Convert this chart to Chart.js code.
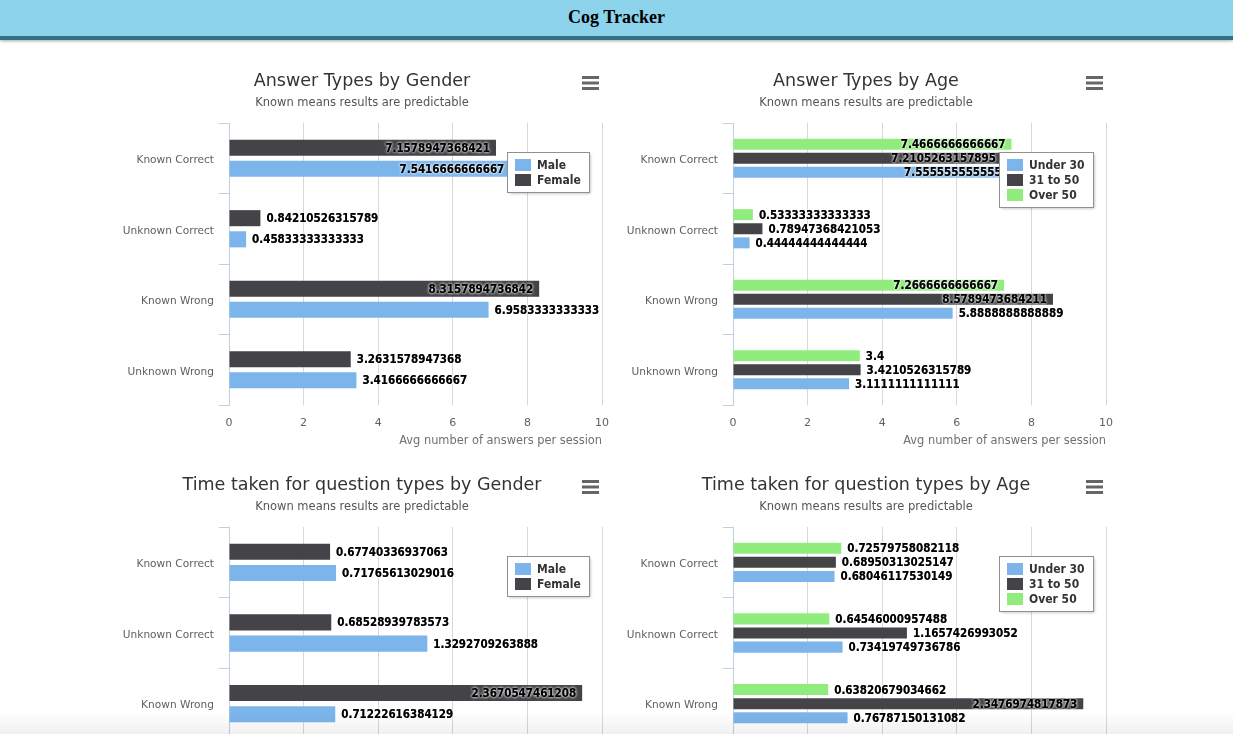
<!DOCTYPE html>
<html><head><meta charset="utf-8">
<script src="https://cdn.jsdelivr.net/npm/chart.js@4.4.1/dist/chart.umd.min.js"></script>
<style>
html,body{margin:0;padding:0;background:#fff;overflow:hidden;width:1233px;height:734px;}
#hdr{position:absolute;left:0;top:0;width:1233px;height:36px;background:#8dd3ec;border-bottom:4px solid #2f7384;box-shadow:0 1px 3px rgba(0,0,0,0.35);text-align:center;font:bold 18px "Liberation Serif","Times New Roman",serif;line-height:34px;color:#000;z-index:2}
.box{position:absolute;}
#fade{position:fixed;left:0;bottom:0;width:1233px;height:22px;background:linear-gradient(rgba(0,0,0,0),rgba(0,0,0,0.06));pointer-events:none;z-index:3}
</style></head>
<body>
<div id="hdr">Cog Tracker</div>
<div class="box" style="left:112px;top:55px"><canvas id="c1" width="500" height="400"></canvas></div>
<div class="box" style="left:616px;top:55px"><canvas id="c2" width="500" height="400"></canvas></div>
<div class="box" style="left:112px;top:459px"><canvas id="c3" width="500" height="330"></canvas></div>
<div class="box" style="left:616px;top:459px"><canvas id="c4" width="500" height="330"></canvas></div>
<div id="fade"></div>
<script>
// ---------- data ----------
const answerCategories = ['Known Correct', 'Unknown Correct', 'Known Wrong', 'Unknown Wrong'];
const timeCategories = ['Known Correct', 'Unknown Correct', 'Known Wrong'];

const answersMale   = [7.5416666666667, 0.45833333333333, 6.9583333333333, 3.4166666666667];
const answersFemale = [7.1578947368421, 0.84210526315789, 8.3157894736842, 3.2631578947368];

const answersUnder30 = [7.5555555555556, 0.44444444444444, 5.8888888888889, 3.1111111111111];
const answers31to50  = [7.2105263157895, 0.78947368421053, 8.5789473684211, 3.4210526315789];
const answersOver50  = [7.4666666666667, 0.53333333333333, 7.2666666666667, 3.4];

const timeMale   = [0.71765613029016, 1.3292709263888, 0.71222616384129];
const timeFemale = [0.67740336937063, 0.68528939783573, 2.3670547461208];

const timeUnder30 = [0.68046117530149, 0.73419749736786, 0.76787150131082];
const time31to50  = [0.68950313025147, 1.1657426993052, 2.3476974817873];
const timeOver50  = [0.72579758082118, 0.64546000957488, 0.63820679034662];

const answerTicks = [0, 2, 4, 6, 8, 10];
const timeTicks = [0, 0.5, 1, 1.5, 2, 2.5];

const subtitleText = 'Known means results are predictable';
const answerAxisTitle = 'Avg number of answers per session';

// ---------- styling ----------
const FONT = "'DejaVu Sans', sans-serif";
const CFONT = "'DejaVu Sans Condensed', 'DejaVu Sans', sans-serif";
const C_MALE = '#7cb5ec', C_FEMALE = '#434348', C_OVER = '#90ed7d';

function decoPlugin(cfg) {
  return {
    id: 'deco',
    afterDatasetsDraw(chart) {
      const ctx = chart.ctx, ca = chart.chartArea;
      ctx.save();
      ctx.font = 'bold 11.5px ' + CFONT;
      ctx.textBaseline = 'middle';
      chart.data.datasets.forEach((ds, i) => {
        const meta = chart.getDatasetMeta(i);
        meta.data.forEach((bar, j) => {
          const txt = String(ds.data[j]);
          const w = ctx.measureText(txt).width;
          let x = bar.x + 6, align = 'left';
          if (x + w > ca.right + 1) { x = bar.x - 6; align = 'right'; }
          ctx.textAlign = align;
          ctx.shadowColor = 'rgba(255,255,255,0.95)';
          ctx.shadowBlur = 3;
          ctx.fillStyle = '#000';
          ctx.fillText(txt, x, bar.y + 1);
          ctx.fillText(txt, x, bar.y + 1);
        });
      });
      ctx.restore();
    },
    afterDraw(chart) {
      const ctx = chart.ctx, ca = chart.chartArea, W = chart.width;
      ctx.save();
      // title + subtitle
      ctx.textAlign = 'center';
      ctx.textBaseline = 'middle';
      ctx.fillStyle = '#333333';
      ctx.font = '17.5px ' + FONT;
      ctx.fillText(cfg.title, W / 2, 26.5);
      ctx.fillStyle = '#555555';
      ctx.font = '11.5px ' + FONT;
      ctx.fillText(cfg.subtitle, W / 2, 48);
      // menu icon
      ctx.strokeStyle = '#666666';
      ctx.lineWidth = 3;
      [22.5, 28, 33.5].forEach(y => {
        ctx.beginPath(); ctx.moveTo(W - 30, y); ctx.lineTo(W - 13, y); ctx.stroke();
      });
      // legend
      const items = cfg.legend;
      ctx.font = 'bold 12px ' + CFONT;
      const maxW = Math.max(...items.map(it => ctx.measureText(it.label).width));
      const bw = Math.round(8 + 16 + 6 + maxW + 8), bh = 10 + items.length * 15;
      const bx = Math.round(ca.right - 13 - bw) + 0.5, by = Math.round(ca.top + 29) + 0.5;
      ctx.fillStyle = '#ffffff';
      ctx.shadowColor = 'rgba(0,0,0,0.28)';
      ctx.shadowOffsetX = 1; ctx.shadowOffsetY = 1; ctx.shadowBlur = 3;
      ctx.fillRect(bx, by, bw, bh);
      ctx.shadowColor = 'transparent'; ctx.shadowBlur = 0; ctx.shadowOffsetX = 0; ctx.shadowOffsetY = 0;
      ctx.strokeStyle = '#909090'; ctx.lineWidth = 1;
      ctx.strokeRect(bx, by, bw, bh);
      items.forEach((it, k) => {
        const sy = by + 6.5 + k * 15;
        ctx.fillStyle = it.color;
        ctx.fillRect(bx + 7.5, sy, 16, 12);
        ctx.fillStyle = '#333333';
        ctx.textAlign = 'left';
        ctx.textBaseline = 'middle';
        ctx.fillText(it.label, bx + 7.5 + 16 + 6, sy + 6.5);
      });
      ctx.restore();
    }
  };
}

function makeChart(id, cfg) {
  const datasets = cfg.series.map(s => ({
    label: s.label, data: s.data, backgroundColor: s.color, borderWidth: 0,
    categoryPercentage: 0.6, barPercentage: cfg.barPct
  }));
  return new Chart(document.getElementById(id), {
    type: 'bar',
    data: { labels: cfg.categories, datasets },
    options: {
      indexAxis: 'y',
      responsive: false,
      animation: false,
      events: [],
      devicePixelRatio: 1,
      layout: { padding: { top: 68, right: 10, left: 0, bottom: 0 } },
      plugins: { legend: { display: false }, tooltip: { enabled: false }, title: { display: false } },
      scales: {
        x: {
          type: 'linear', min: cfg.ticks[0], max: cfg.ticks[cfg.ticks.length - 1],
          afterBuildTicks: s => { s.ticks = cfg.ticks.map(v => ({ value: v })); },
          grid: { color: '#d8d8d8', drawTicks: false, lineWidth: 1 },
          border: { display: false },
          ticks: { color: '#606060', font: { family: FONT, size: 11 }, padding: 12 },
          title: { display: !!cfg.axisTitle, text: cfg.axisTitle || '', align: 'end', color: '#707070',
                   font: { family: FONT, size: 11.4 }, padding: { top: 0, bottom: 7 } },
          afterFit: s => { s.height = 50; s.paddingLeft = 0; s.paddingRight = 0; }
        },
        y: {
          grid: { color: '#c0d0e0', drawOnChartArea: false, tickLength: 10, offset: true },
          border: { color: '#c0d0e0', width: 1 },
          ticks: { color: '#606060', font: { family: FONT, size: 10.6 }, padding: 5, labelOffset: 2 },
          afterFit: s => { s.width = 117; s.paddingTop = 0; s.paddingBottom = 0; }
        }
      }
    },
    plugins: [decoPlugin(cfg)]
  });
}

const genderLegend = [{ label: 'Male', color: C_MALE }, { label: 'Female', color: C_FEMALE }];
const ageLegend = [{ label: 'Under 30', color: C_MALE }, { label: '31 to 50', color: C_FEMALE }, { label: 'Over 50', color: C_OVER }];

makeChart('c1', {
  title: 'Answer Types by Gender', subtitle: subtitleText, axisTitle: answerAxisTitle,
  categories: answerCategories, ticks: answerTicks, barPct: 0.76, legend: genderLegend,
  series: [{ label: 'Female', data: answersFemale, color: C_FEMALE }, { label: 'Male', data: answersMale, color: C_MALE }]
});
makeChart('c2', {
  title: 'Answer Types by Age', subtitle: subtitleText, axisTitle: answerAxisTitle,
  categories: answerCategories, ticks: answerTicks, barPct: 0.78, legend: ageLegend,
  series: [{ label: 'Over 50', data: answersOver50, color: C_OVER }, { label: '31 to 50', data: answers31to50, color: C_FEMALE },
           { label: 'Under 30', data: answersUnder30, color: C_MALE }]
});
makeChart('c3', {
  title: 'Time taken for question types by Gender', subtitle: subtitleText, axisTitle: '',
  categories: timeCategories, ticks: timeTicks, barPct: 0.76, legend: genderLegend,
  series: [{ label: 'Female', data: timeFemale, color: C_FEMALE }, { label: 'Male', data: timeMale, color: C_MALE }]
});
makeChart('c4', {
  title: 'Time taken for question types by Age', subtitle: subtitleText, axisTitle: '',
  categories: timeCategories, ticks: timeTicks, barPct: 0.78, legend: ageLegend,
  series: [{ label: 'Over 50', data: timeOver50, color: C_OVER }, { label: '31 to 50', data: time31to50, color: C_FEMALE },
           { label: 'Under 30', data: timeUnder30, color: C_MALE }]
});
</script>
</body></html>
